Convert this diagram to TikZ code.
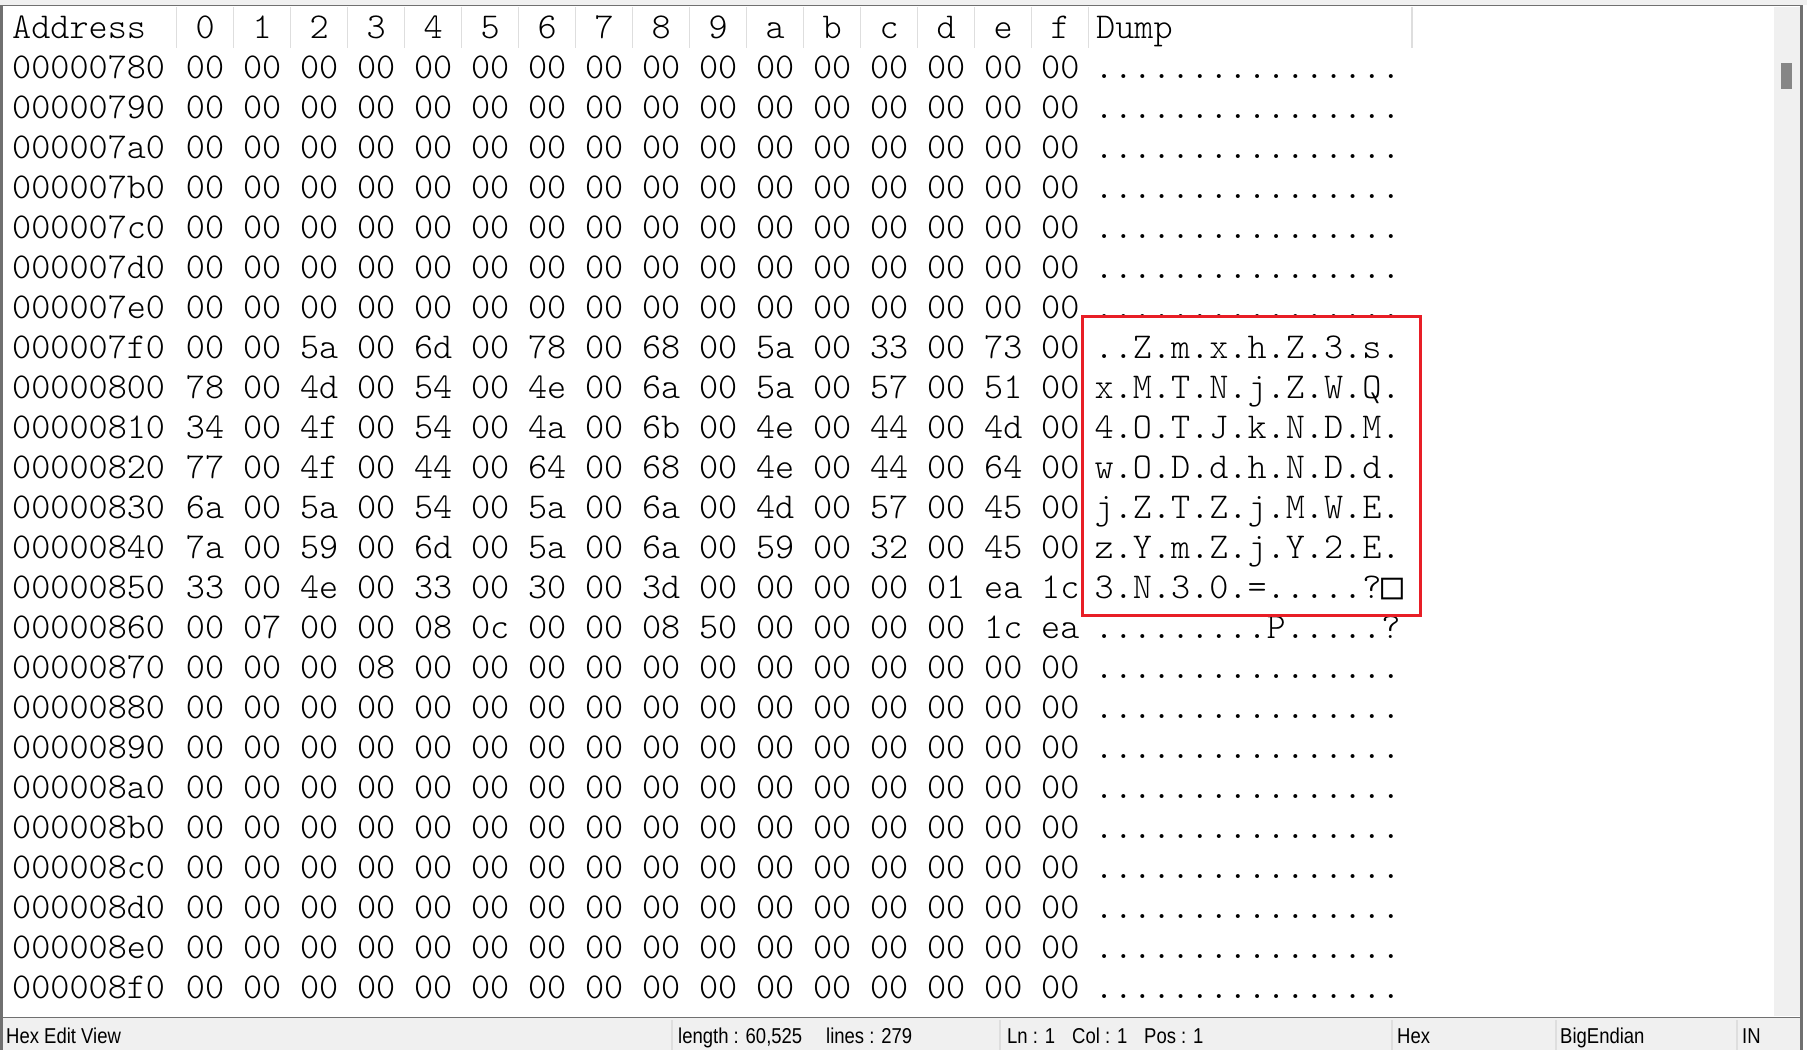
\documentclass[tikz,border=0pt]{standalone}
\usepackage{fontspec}
\newfontfamily\statusfont[FakeStretch=0.86]{Liberation Sans}
\newfontfamily\hexfont{lmmonolt10-regular.otf}
\newfontfamily\boxfont{DejaVu Sans Mono}
\definecolor{boxred}{RGB}{232,30,38}
\definecolor{barbg}{RGB}{240,240,240}
\definecolor{sepgray}{RGB}{222,222,222}
\definecolor{framegray}{RGB}{112,112,112}
\definecolor{thumbgray}{RGB}{134,134,134}
\def\zr{00,00,00,00,00,00,00,00,00,00,00,00,00,00,00,00}
\def\zd{................}
\begin{document}
\begin{tikzpicture}[x=1pt,y=-1pt,
  hexcell/.style={inner sep=0pt,anchor=base,font=\hexfont\fontsize{36.4}{40}\selectfont},
  stattext/.style={inner sep=0pt,anchor=base west,font=\statusfont\fontsize{21.5}{24}\selectfont},
  sepline/.style={sepgray,line width=1.2}]
\useasboundingbox (0,0) rectangle (1807,1050);
\fill[white] (0,0) rectangle (1807,1050);

% window frame, scroll bar, status bar
\fill[barbg] (0,0) rectangle (1807,5);
\draw[framegray] (0,5.5)--(1802,5.5);
\fill[barbg] (1774,7) rectangle (1800,1016);
\fill[thumbgray] (1781,63) rectangle (1792,89);
\fill[barbg] (3,1018) rectangle (1800,1050);
\draw[framegray] (2,1017)--(1801,1017);
\draw[framegray,line width=2.5] (1.5,5)--(1.5,1050);
\draw[framegray,line width=2.5] (1801.5,5)--(1801.5,1050);

% header
\node[hexcell,anchor=base west] (hAddr) at (12,38) {Address};
\foreach \c [count=\k from 0] in {0,1,2,3,4,5,6,7,8,9,a,b,c,d,e,f}
  \node[hexcell] (hc\k) at ({205.1+57.01*\k},38) {\c};
\node[hexcell,anchor=base west] (hDump) at (1096,38) {Dump};
\foreach \k in {0,...,16}
  \draw[sepline] ({176.3+57.01*\k},7)--++(0,41);
\draw[sepline] (1412,7)--++(0,41);

% rows
\foreach \addr/\bytes/\dump [count=\r from 0] in {
  00000780/\zr/\zd,
  00000790/\zr/\zd,
  000007a0/\zr/\zd,
  000007b0/\zr/\zd,
  000007c0/\zr/\zd,
  000007d0/\zr/\zd,
  000007e0/\zr/\zd,
  000007f0/{00,00,5a,00,6d,00,78,00,68,00,5a,00,33,00,73,00}/{..Z.m.x.h.Z.3.s.},
  00000800/{78,00,4d,00,54,00,4e,00,6a,00,5a,00,57,00,51,00}/{x.M.T.N.j.Z.W.Q.},
  00000810/{34,00,4f,00,54,00,4a,00,6b,00,4e,00,44,00,4d,00}/{4.O.T.J.k.N.D.M.},
  00000820/{77,00,4f,00,44,00,64,00,68,00,4e,00,44,00,64,00}/{w.O.D.d.h.N.D.d.},
  00000830/{6a,00,5a,00,54,00,5a,00,6a,00,4d,00,57,00,45,00}/{j.Z.T.Z.j.M.W.E.},
  00000840/{7a,00,59,00,6d,00,5a,00,6a,00,59,00,32,00,45,00}/{z.Y.m.Z.j.Y.2.E.},
  00000850/{33,00,4e,00,33,00,30,00,3d,00,00,00,00,01,ea,1c}/{3.N.3.0.=.....?{\boxfont □}},
  00000860/{00,07,00,00,08,0c,00,00,08,50,00,00,00,00,1c,ea}/{.........P.....?},
  00000870/{00,00,00,08,00,00,00,00,00,00,00,00,00,00,00,00}/\zd,
  00000880/\zr/\zd,
  00000890/\zr/\zd,
  000008a0/\zr/\zd,
  000008b0/\zr/\zd,
  000008c0/\zr/\zd,
  000008d0/\zr/\zd,
  000008e0/\zr/\zd,
  000008f0/\zr/\zd}{
  \node[hexcell,anchor=base west] (adr\r) at (12,{78.3+40*\r}) {\addr};
  \edef\bl{\bytes}
  \foreach \b [count=\k from 0] in \bl
    \node[hexcell] (b\r-\k) at ({205.1+57.01*\k},{78.3+40*\r}) {\b};
  \node[hexcell,anchor=base west] (dmp\r) at (1094.5,{78.3+40*\r}) {\dump};
}

% marked block
\draw[boxred,line width=3] (1082,316) rectangle (1420,615);

% status bar
\foreach \x in {672,1000,1392,1556,1737}
  \draw[sepline] (\x,1020)--(\x,1050);
\node[stattext] (sView) at (6,1043) {Hex Edit View};
\node[stattext] (sLen) at (678,1043) {length : 60,525};
\node[stattext] (sLines) at (826,1043) {lines : 279};
\node[stattext] (sLn) at (1007,1043) {Ln : 1};
\node[stattext] (sCol) at (1072,1043) {Col : 1};
\node[stattext] (sPos) at (1144,1043) {Pos : 1};
\node[stattext] (sMode) at (1397,1043) {Hex};
\node[stattext] (sEnd) at (1560,1043) {BigEndian};
\node[stattext] (sIns) at (1742,1043) {IN};
\end{tikzpicture}
\end{document}
